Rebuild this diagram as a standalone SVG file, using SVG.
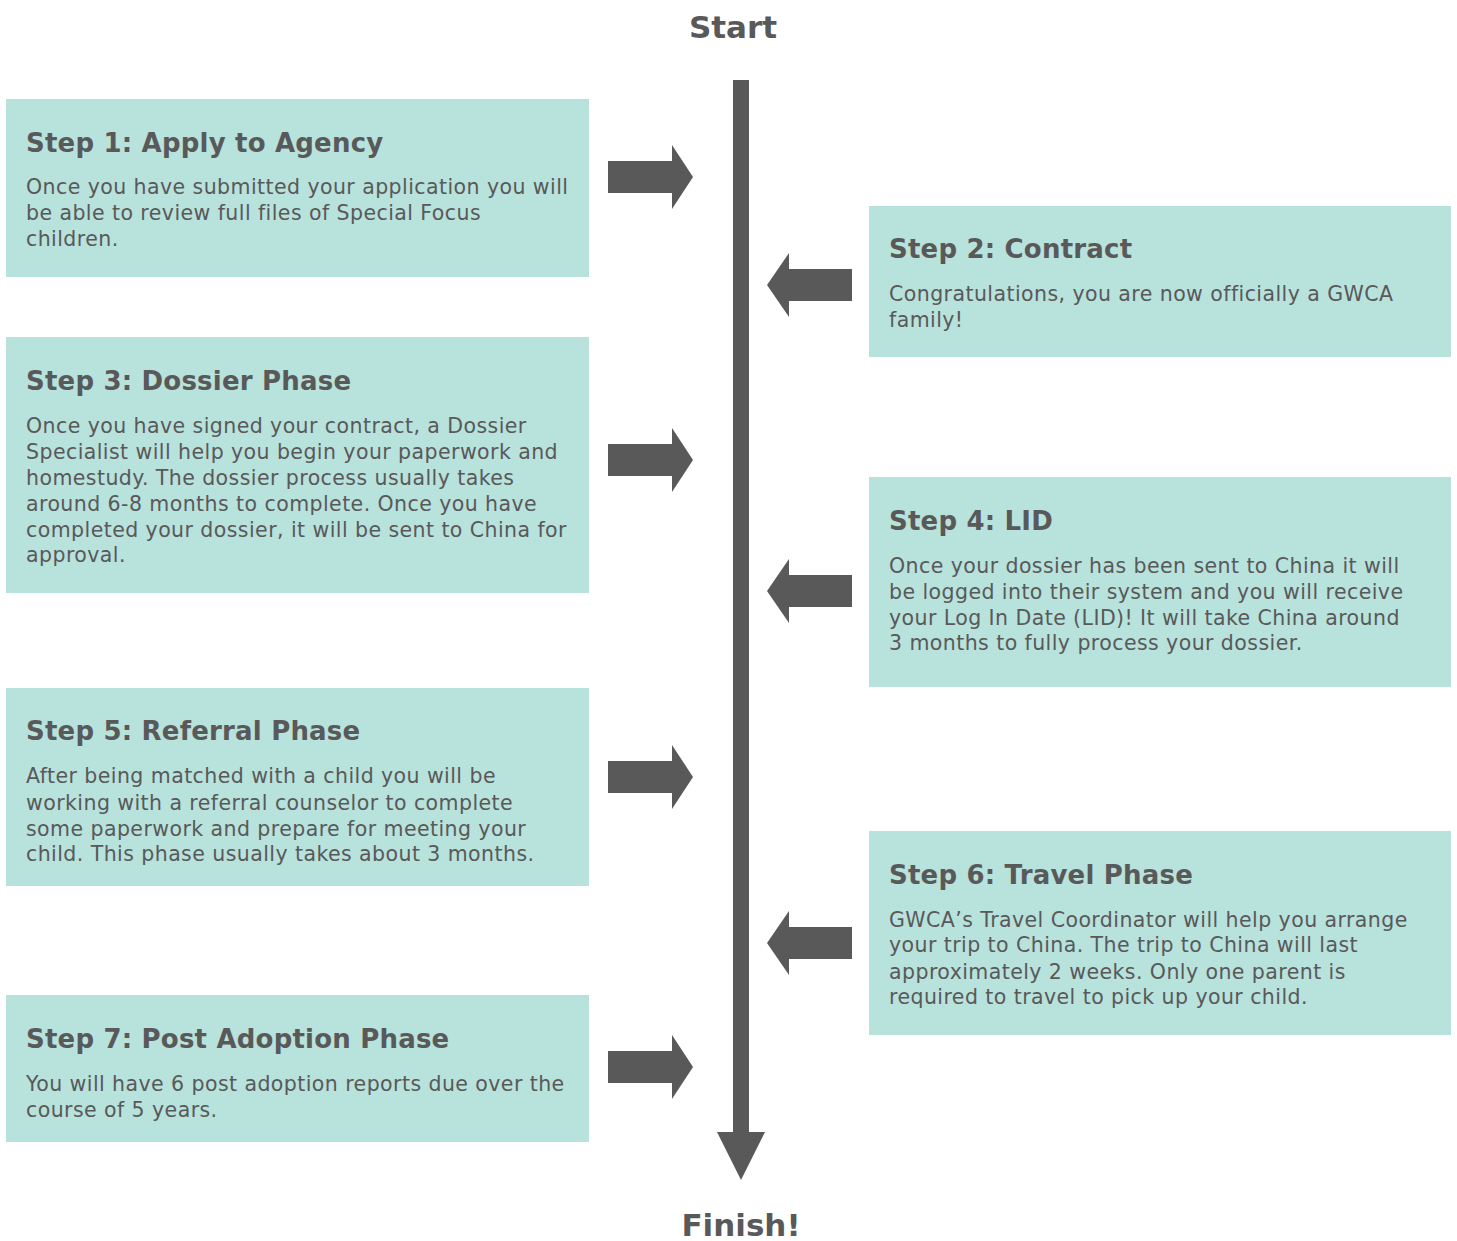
<svg xmlns="http://www.w3.org/2000/svg" width="1457" height="1241" viewBox="0 0 1457 1241">
<defs>
<style>
.box{fill:#b8e2dc}
.t{font-family:"DejaVu Sans",Verdana,sans-serif;font-weight:bold;font-size:26px;letter-spacing:0.2px;fill:#595959}
.b{font-family:"DejaVu Sans",Verdana,sans-serif;font-size:20.5px;letter-spacing:0.43px;fill:#595959}
.h{font-family:"DejaVu Sans",Verdana,sans-serif;font-weight:bold;font-size:31px;fill:#595959;text-anchor:middle}
.a{fill:#595959}
</style>
<path id="ra" d="M608,-16 H672 V-32 L693,0 L672,32 V16 H608 Z"/>
<path id="la" d="M852,-16 H789 V-32 L767,0 L789,32 V16 H852 Z"/>
</defs>
<rect width="1457" height="1241" fill="#ffffff"/>
<text class="h" x="733" y="38">Start</text>
<text class="h" x="741" y="1236">Finish!</text>
<g id="connectors" class="a">
<rect x="733" y="80" width="16" height="1054"/>
<path d="M717,1132 H765 L741,1180 Z"/>
<use href="#ra" y="177"/>
<use href="#la" y="285"/>
<use href="#ra" y="460"/>
<use href="#la" y="591"/>
<use href="#ra" y="777"/>
<use href="#la" y="943"/>
<use href="#ra" y="1067"/>
</g>
<g id="step1">
<rect class="box" x="6" y="99" width="583" height="178"/>
<text class="t" x="26" y="152">Step 1: Apply to Agency</text>
<text class="b" x="26"><tspan x="26" y="194">Once you have submitted your application you will</tspan><tspan x="26" y="220">be able to review full files of Special Focus</tspan><tspan x="26" y="246">children.</tspan></text>
</g>
<g id="step2">
<rect class="box" x="869" y="206" width="582" height="151"/>
<text class="t" x="889" y="258">Step 2: Contract</text>
<text class="b"><tspan x="889" y="301">Congratulations, you are now officially a GWCA</tspan><tspan x="889" y="327">family!</tspan></text>
</g>
<g id="step3">
<rect class="box" x="6" y="337" width="583" height="256"/>
<text class="t" x="26" y="390">Step 3: Dossier Phase</text>
<text class="b"><tspan x="26" y="433">Once you have signed your contract, a Dossier</tspan><tspan x="26" y="459">Specialist will help you begin your paperwork and</tspan><tspan x="26" y="485">homestudy. The dossier process usually takes</tspan><tspan x="26" y="511">around 6-8 months to complete. Once you have</tspan><tspan x="26" y="537">completed your dossier, it will be sent to China for</tspan><tspan x="26" y="562">approval.</tspan></text>
</g>
<g id="step4">
<rect class="box" x="869" y="477" width="582" height="210"/>
<text class="t" x="889" y="530">Step 4: LID</text>
<text class="b"><tspan x="889" y="573">Once your dossier has been sent to China it will</tspan><tspan x="889" y="599">be logged into their system and you will receive</tspan><tspan x="889" y="625">your Log In Date (LID)! It will take China around</tspan><tspan x="889" y="650">3 months to fully process your dossier.</tspan></text>
</g>
<g id="step5">
<rect class="box" x="6" y="688" width="583" height="198"/>
<text class="t" x="26" y="740">Step 5: Referral Phase</text>
<text class="b"><tspan x="26" y="783">After being matched with a child you will be</tspan><tspan x="26" y="810">working with a referral counselor to complete</tspan><tspan x="26" y="836">some paperwork and prepare for meeting your</tspan><tspan x="26" y="861">child. This phase usually takes about 3 months.</tspan></text>
</g>
<g id="step6">
<rect class="box" x="869" y="831" width="582" height="204"/>
<text class="t" x="889" y="884">Step 6: Travel Phase</text>
<text class="b"><tspan x="889" y="927">GWCA’s Travel Coordinator will help you arrange</tspan><tspan x="889" y="952">your trip to China. The trip to China will last</tspan><tspan x="889" y="979">approximately 2 weeks. Only one parent is</tspan><tspan x="889" y="1004">required to travel to pick up your child.</tspan></text>
</g>
<g id="step7">
<rect class="box" x="6" y="995" width="583" height="147"/>
<text class="t" x="26" y="1048">Step 7: Post Adoption Phase</text>
<text class="b"><tspan x="26" y="1091">You will have 6 post adoption reports due over the</tspan><tspan x="26" y="1117">course of 5 years.</tspan></text>
</g>
</svg>
